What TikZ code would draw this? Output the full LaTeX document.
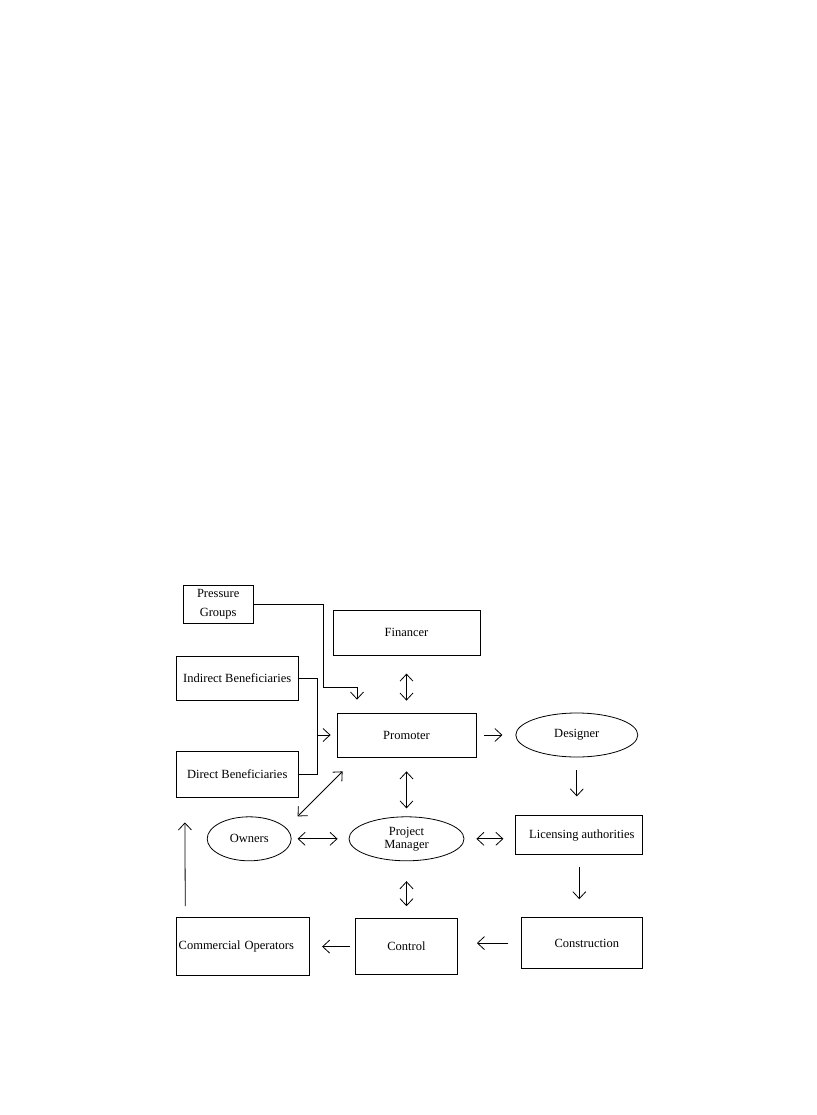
\documentclass[tikz,border=0pt]{standalone}
\usepackage{fontspec}
\setmainfont{Liberation Serif}
\usetikzlibrary{arrows.meta, positioning, shapes.geometric}

\begin{document}
\begin{tikzpicture}[
    x=1pt, y=1pt,
    box/.style={rectangle, draw, line width=0.8pt, inner sep=2pt, align=center, font=\fontsize{12.5}{15}\selectfont},
    oval/.style={ellipse, draw, line width=0.8pt, inner sep=0pt, align=center, font=\fontsize{12.5}{13}\selectfont},
    arr/.style={-{Straight Barb[length=7pt, width=13pt]}, line width=0.8pt},
    dbl/.style={{Straight Barb[length=7pt, width=13pt]}-{Straight Barb[length=7pt, width=13pt]}, line width=0.8pt},
    link/.style={line width=0.8pt},
]
\useasboundingbox (0,0) rectangle (816,-1115);

% Centre
\node[box, minimum width=139pt, minimum height=44pt] (promoter) at (406.5,-735) {Promoter};
\node[box, minimum width=147pt, minimum height=45pt, above=57pt of promoter] (financer) {Financer};
\node[oval, minimum width=122pt, minimum height=44pt, right=39pt of promoter] (designer) {Designer};
\node[oval, minimum width=115pt, minimum height=44pt, below=59pt of promoter] (pm) {Project\\Manager};
\node[oval, minimum width=84pt, minimum height=44pt, left=57pt of pm] (owners) {Owners};
\node[box, minimum width=127pt, minimum height=39pt, right=51pt of pm, yshift=3.5pt] (licensing) {\hspace*{5pt}Licensing authorities};
\node[box, minimum width=102pt, minimum height=56pt, below=57pt of pm] (control) {Control};
\node[box, minimum width=121pt, minimum height=51pt, below=62pt of licensing, xshift=3pt] (construction) {\hspace*{9pt}Construction};
\node[box, minimum width=133pt, minimum height=58pt, text width=129pt, align=left, left=45pt of control] (commercial) {Commercial Operators};

% Beneficiaries
\node[box, minimum width=122pt, minimum height=44pt, above left=12pt and 38pt of promoter] (indirect) {Indirect Beneficiaries};
\node[box, minimum width=122pt, minimum height=46pt, below=50pt of indirect] (direct) {Direct Beneficiaries};
\node[box, minimum width=70pt, minimum height=38pt, above right=32pt and 7pt of indirect.north west, font=\fontsize{12.5}{19}\selectfont] (pressure) {Pressure\\Groups};
\coordinate[right=19pt of indirect.east] (join);

% Arrows
\draw[dbl, shorten <=18pt, shorten >=12pt] (financer) -- (promoter);
\draw[dbl, shorten <=14pt, shorten >=8pt] (promoter) -- (pm);
\draw[arr, shorten <=8pt, shorten >=13pt] (promoter) -- (designer);
\draw[arr, shorten <=13pt, shorten >=19pt] (designer) -- (designer |- licensing.north);
\draw[dbl, shorten <=6pt, shorten >=11pt] (owners) -- (pm);
\draw[dbl, shorten <=12pt, shorten >=12pt] (pm) -- (pm -| licensing.west);
\draw[arr, shorten <=12pt, shorten >=18pt] (licensing.south) -- (licensing.south |- construction.north);
\draw[dbl, shorten <=20pt, shorten >=12pt] (pm) -- (control);
\draw[arr, shorten <=13pt, shorten >=19pt] (construction) -- (construction -| control.east);
\draw[arr, shorten <=5pt, shorten >=12pt] (control) -- (commercial);
\draw[arr, shorten <=11pt, shorten >=25pt] ([xshift=9pt]commercial.north west) -- ([xshift=9pt]direct.south west);
\draw[dbl] ([shift={(6pt,-14pt)}]promoter.south west) -- ([shift={(-39pt,-59pt)}]promoter.south west);

% Side links
\draw[arr] (pressure.east) -- ++(70pt,0) |- ([shift={(-49.5pt,25pt)}]promoter.north) -- ([shift={(-49.5pt,13pt)}]promoter.north);
\draw[link] (indirect.east) -- (join) |- (direct.east);
\draw[arr, shorten >=6pt] (join |- promoter.west) -- (promoter.west);

\end{tikzpicture}
\end{document}
